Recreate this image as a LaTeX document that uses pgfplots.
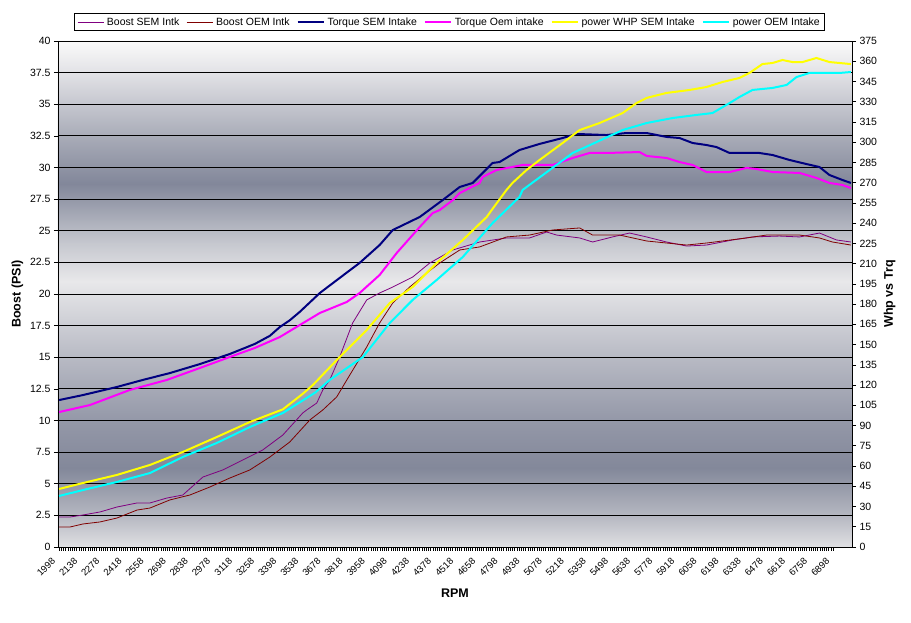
\documentclass[border=0pt]{standalone}
\usepackage{fontspec}
\setmainfont{Liberation Sans}
\usepackage{pgfplots}
\pgfplotsset{compat=1.18}
\definecolor{semboost}{HTML}{800080}
\definecolor{oemboost}{HTML}{800000}
\definecolor{semtrq}{HTML}{000080}
\definecolor{oemtrq}{HTML}{FF00FF}
\definecolor{semhp}{HTML}{FFFF00}
\definecolor{oemhp}{HTML}{00FFFF}
\definecolor{bgA}{HTML}{E0E0E3}
\definecolor{bgB}{HTML}{B5B7C1}
\definecolor{bgC}{HTML}{83889A}
\definecolor{bgD}{HTML}{9498A8}
\definecolor{bgE}{HTML}{B8BAC4}
\definecolor{bgF}{HTML}{E8E8EA}
\definecolor{bgG}{HTML}{C6C8CF}
\definecolor{bgH}{HTML}{82879A}
\definecolor{bgI}{HTML}{A9ACB8}
\definecolor{bgJ}{HTML}{E2E2E6}
\definecolor{bgK}{HTML}{FAFAFA}
\pgfdeclareverticalshading{bgshade}{100bp}{color(0bp)=(bgA); color(25bp)=(bgA); color(28.125bp)=(bgB); color(32.8bp)=(bgC); color(37.5bp)=(bgD); color(43.75bp)=(bgE); color(51.25bp)=(bgF); color(55bp)=(bgG); color(60.9bp)=(bgH); color(65.625bp)=(bgI); color(71.875bp)=(bgJ); color(75bp)=(bgK); color(100bp)=(bgK)}
\newcommand{\tickfont}{\fontsize{10.5}{12}\selectfont}
\newcommand{\xtickfont}{\fontsize{9.5}{11}\selectfont}
\newcommand{\labfont}{\fontsize{12.5}{14}\selectfont\bfseries}
\pgfplotsset{
  mybase/.style={
    scale only axis, width=794pt, height=506pt,
    xmin=1991, xmax=7017,
    tick align=outside,
    major tick length=4pt, minor tick length=4pt,
    tick style={black, line width=0.6pt},
    axis line style={-, black, line width=0.8pt},
    /pgf/number format/assume math mode=true,
    /pgf/number format/1000 sep={},
    scaled ticks=false,
    ticklabel style={font=\tickfont},
    label style={font=\labfont},
  }
}
\begin{document}
\begin{tikzpicture}
\begin{axis}[mybase,
  ymin=0, ymax=40, ytick={0,2.5,...,40},
  axis x line*=bottom, axis y line*=left,
  xtick={1998,2138,...,6898}, minor x tick num=9,
  xticklabel style={xshift=-3pt, yshift=-6pt, rotate=45, anchor=east, font=\xtickfont},
  ymajorgrids, major grid style={black, line width=0.8pt},
  axis background/.style={shade, shading=bgshade},
  xlabel={RPM}, ylabel={Boost (PSI)},
  xlabel style={yshift=-4pt},
  legend columns=6,
  legend style={at={(0.493,1)}, anchor=south, yshift=10pt, draw=black, line width=0.6pt,
    font=\tickfont, inner xsep=3pt, inner ysep=2pt,
    /tikz/every even column/.append style={column sep=5pt},
    /tikz/every odd column/.append style={column sep=1pt}},
  legend cell align=left,
  legend image code/.code={\draw[#1] (0pt,0pt) -- (26pt,0pt);},
]
\coordinate (ll) at (rel axis cs:0,0);
\coordinate (ur) at (rel axis cs:1,1);
% Boost SEM Intk
\addplot[semboost, line width=0.8pt] coordinates {
(1998,2.37)(2067,2.37)(2149,2.53)(2257,2.77)(2364,3.16)(2491,3.48)(2573,3.48)(2680,3.87)(2781,4.11)
(2908,5.53)(3034,6.09)(3161,6.88)(3287,7.67)(3414,8.85)(3540,10.59)(3565,10.83)(3629,11.38)
(3667,12.41)(3711,13.20)(3774,15.02)(3856,17.71)(3945,19.53)(4027,20.08)(4110,20.55)(4236,21.34)
(4344,22.45)(4490,23.48)(4660,24.11)(4830,24.43)(4976,24.43)(5084,24.90)(5147,24.66)(5293,24.43)
(5375,24.11)(5501,24.51)(5609,24.82)(5717,24.51)(5843,24.11)(5970,23.79)(6096,23.87)(6261,24.27)
(6387,24.51)(6558,24.58)(6685,24.51)(6811,24.82)(6919,24.27)(7010,24.11)};
\addlegendentry{Boost SEM Intk}
% Boost OEM Intk
\addplot[oemboost, line width=0.8pt] coordinates {
(1998,1.58)(2067,1.58)(2149,1.82)(2257,1.98)(2364,2.29)(2491,2.92)(2573,3.08)(2699,3.72)(2826,4.11)
(2952,4.74)(3078,5.45)(3205,6.09)(3332,7.11)(3458,8.30)(3585,10.04)(3667,10.83)(3755,11.86)
(3819,13.20)(3945,15.81)(4027,17.71)(4110,19.29)(4217,20.55)(4325,21.66)(4407,22.45)(4534,23.48)
(4660,23.72)(4830,24.51)(4976,24.66)(5122,25.06)(5293,25.22)(5375,24.66)(5546,24.66)(5717,24.19)
(5843,24.03)(5970,23.87)(6096,24.03)(6349,24.43)(6476,24.66)(6685,24.66)(6811,24.43)(6893,24.11)(7010,23.87)};
\addlegendentry{Boost OEM Intk}
\addlegendimage{semtrq, line width=2pt}
\addlegendentry{Torque SEM Intake}
\addlegendimage{oemtrq, line width=2pt}
\addlegendentry{Torque Oem intake}
\addlegendimage{semhp, line width=2pt}
\addlegendentry{power WHP SEM Intake}
\addlegendimage{oemhp, line width=2pt}
\addlegendentry{power OEM Intake}
\end{axis}
\begin{axis}[mybase,
  ymin=0, ymax=375, ytick={0,15,...,375},
  axis x line=none, axis y line*=right,
  ylabel={Whp vs Trq},
]
% Torque SEM Intake
\addplot[semtrq, line width=2pt] coordinates {
(1998,108.9)(2149,112.6)(2364,118.6)(2528,123.8)(2699,128.9)(2890,135.6)(3078,143.0)(3237,150.5)
(3332,156.5)(3395,163.0)(3458,168.0)(3521,174.2)(3648,188.2)(3774,199.4)(3900,210.5)(4027,223.8)
(4110,234.9)(4281,244.6)(4426,257.1)(4534,266.8)(4616,269.8)(4742,284.6)(4786,285.3)(4912,294.2)
(5039,298.7)(5185,303.1)(5274,306.1)(5463,305.3)(5590,306.8)(5717,306.8)(5843,303.9)(5925,303.1)
(6008,299.4)(6096,297.9)(6159,296.4)(6242,292.0)(6431,292.0)(6514,290.5)(6622,286.8)(6729,283.8)
(6811,281.6)(6874,275.7)(6956,272.0)(7010,269.8)};
% Torque Oem intake
\addplot[oemtrq, line width=2pt] coordinates {
(1998,100.0)(2193,105.2)(2446,116.4)(2680,123.8)(2890,132.7)(3078,140.8)(3237,147.5)(3395,155.6)
(3648,173.4)(3819,181.6)(3900,188.2)(4027,201.6)(4135,217.9)(4281,237.2)(4363,247.5)(4407,249.7)
(4490,257.1)(4534,262.3)(4660,269.8)(4679,274.2)(4768,279.4)(4932,283.1)(5122,283.1)(5249,288.3)
(5356,292.0)(5463,292.0)(5672,292.7)(5717,289.8)(5843,288.3)(5925,285.3)(6008,283.1)(6096,277.9)
(6242,277.9)(6349,280.9)(6413,280.1)(6514,277.9)(6685,277.2)(6792,273.5)(6874,269.8)(6956,268.3)(7010,266.0)};
% power WHP SEM Intake
\addplot[semhp, line width=2pt] coordinates {
(1998,43.0)(2149,47.4)(2364,53.4)(2573,60.8)(2781,70.4)(2996,81.5)(3205,92.6)(3414,102.0)
(3540,113.5)(3604,120.0)(3774,140.8)(3945,160.8)(4091,180.8)(4236,192.7)(4388,210.5)(4553,227.5)
(4705,244.6)(4736,249.7)(4830,264.6)(4868,269.8)(4957,279.4)(5039,286.8)(5185,299.4)(5293,309.0)
(5419,314.2)(5565,321.6)(5653,329.0)(5717,332.8)(5843,336.5)(5989,338.7)(6096,340.9)(6197,344.6)
(6305,347.6)(6368,351.3)(6450,357.9)(6514,358.7)(6577,360.9)(6640,359.4)(6704,359.4)(6792,362.4)
(6874,359.4)(6937,358.7)(7010,357.9)};
% power OEM Intake
\addplot[oemhp, line width=2pt] coordinates {
(1998,37.8)(2149,42.2)(2364,48.2)(2573,54.8)(2781,66.7)(2996,77.1)(3205,88.9)(3414,99.3)
(3620,114.5)(3711,123.8)(3921,140.8)(4091,166.0)(4236,183.1)(4388,197.9)(4553,214.9)(4742,240.1)
(4912,259.4)(4932,264.6)(5103,279.4)(5249,292.0)(5400,300.1)(5565,309.0)(5717,314.2)(5881,317.9)
(6033,320.2)(6134,321.6)(6242,329.0)(6305,333.5)(6387,338.7)(6514,340.2)(6603,342.4)(6666,348.3)
(6748,351.3)(6830,351.3)(6937,351.3)(7010,352.0)};
\end{axis}
\path ([xshift=-58pt,yshift=-76pt]ll) rectangle ([xshift=59pt,yshift=41pt]ur);
\end{tikzpicture}
\end{document}
